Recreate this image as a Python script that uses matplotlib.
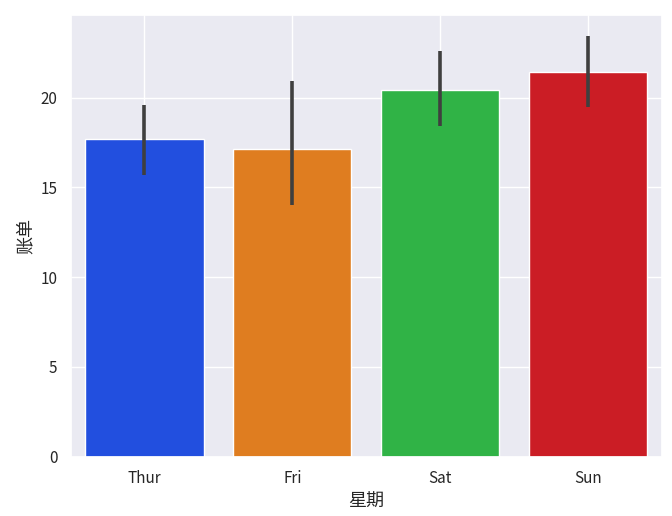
import matplotlib
matplotlib.use("Agg")
import matplotlib.pyplot as plt
import seaborn as sns

# mean total bill per day, with 95% CI bounds
days = ["Thur", "Fri", "Sat", "Sun"]
bill_mean = [17.68, 17.15, 20.44, 21.41]
ci_low = [15.7, 14.0, 18.4, 19.5]
ci_high = [19.6, 20.9, 22.6, 23.4]

sns.set_theme(style="darkgrid")
plt.rcParams["font.family"] = ["Noto Sans CJK SC", "DejaVu Sans"]
plt.rcParams["axes.unicode_minus"] = False

colors = sns.color_palette("bright", 4, desat=0.75)

fig, ax = plt.subplots(figsize=(6.72, 5.16), dpi=100)
x = range(len(days))
ax.bar(x, bill_mean, width=0.8, color=colors, edgecolor="white", linewidth=1)
ax.vlines(list(x), ci_low, ci_high, color="#3f3f3f", linewidth=2.6)
ax.set_xticks(list(x))
ax.set_xticklabels(days)
ax.set_xlim(-0.5, 3.5)
ax.set_xlabel("星期", fontsize=13)
ax.set_ylabel("账单", fontsize=13)
ax.tick_params(labelsize=11)

fig.subplots_adjust(left=0.105, right=0.985, top=0.97, bottom=0.115)
fig.savefig("out.png", dpi=100)
